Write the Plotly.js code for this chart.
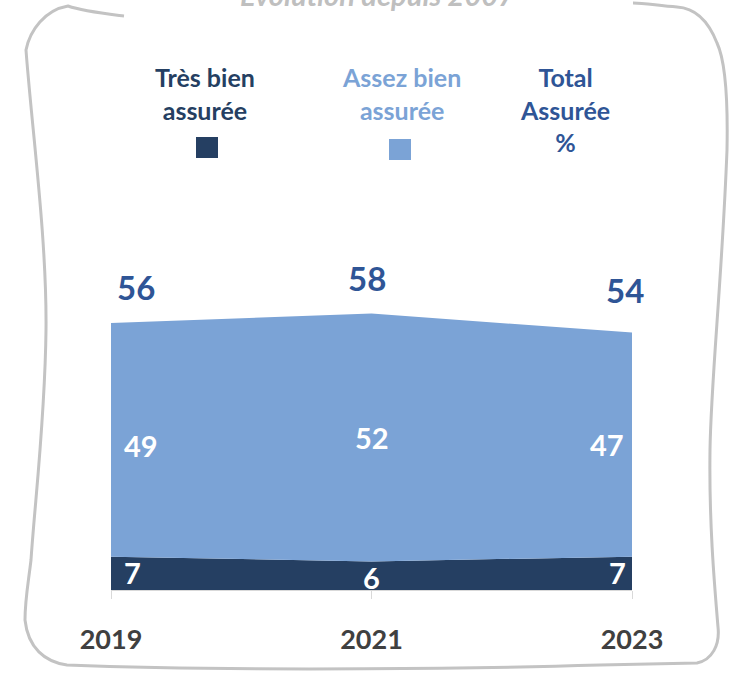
<!DOCTYPE html>
<html>
<head>
<meta charset="utf-8">
<script src="https://cdn.plot.ly/plotly-3.0.1.min.js"></script>
<style>html,body{margin:0;padding:0;background:#fff;}#chart{width:730px;height:678px;}</style>
</head>
<body>
<div id="chart"></div>
<script>
// ---- data ----
const years = [2019, 2021, 2023];
const tresBien = [7, 6, 7];
const assezBien = [49, 52, 47];
const total = [56, 58, 54];
const seriesNames = ["Très bien<br>assurée", "Assez bien<br>assurée", "Total<br>Assurée<br>%"];
const titleText = "Evolution depuis 2007";

// ---- styles ----
const W = 730, H = 678;
const M = {l: 111, r: 98, t: 304, b: 88};
const pw = W - M.l - M.r, ph = H - M.t - M.b;
const cDark = "#253f62", cLight = "#7ba3d6", cTotal = "#2f5596";
const FONT = "Lato, 'Open Sans', sans-serif";
const px = x => (x - M.l) / pw;
const py = y => (H - M.b - y) / ph;

const traces = [
  {x: years, y: tresBien, type: "scatter", mode: "lines", stackgroup: "one",
   line: {width: 0, color: cDark}, fillcolor: cDark, hoverinfo: "skip", showlegend: false},
  {x: years, y: assezBien, type: "scatter", mode: "lines", stackgroup: "one",
   line: {width: 0, color: cLight}, fillcolor: cLight, hoverinfo: "skip", showlegend: false}
];

const anchorOf = i => i === 0 ? "left" : (i === years.length - 1 ? "right" : "center");
const annotations = [];
years.forEach((yr, i) => {
  const a = anchorOf(i);
  annotations.push({x: yr, y: tresBien[i] / 2, text: String(tresBien[i]), showarrow: false,
    xanchor: a, xshift: a === "left" ? 11 : (a === "right" ? -4 : 0), yshift: i === 1 ? -2 : 1,
    font: {family: FONT, size: 29, color: "#ffffff", weight: 700}});
  annotations.push({x: yr, y: tresBien[i] + assezBien[i] / 2, text: String(assezBien[i]), showarrow: false,
    xanchor: a, xshift: a === "left" ? 11 : (a === "right" ? -6 : 0), yshift: i === 0 ? -6 : 0,
    font: {family: FONT, size: 29, color: "#ffffff", weight: 700}});
  annotations.push({x: yr, y: total[i], text: String(total[i]), showarrow: false,
    xanchor: a, xshift: a === "left" ? 4 : (a === "right" ? 14 : -5), yshift: i === 2 ? 43 : 36,
    font: {family: FONT, size: 33, color: cTotal, weight: 700}});
});

// legend-like header
const legendX = [205, 401, 565];
const legendColors = [cDark, cLight, cTotal];
seriesNames.forEach((n, i) => {
  annotations.push({xref: "paper", yref: "paper", x: px(legendX[i]), y: py(60), yanchor: "top",
    xanchor: "center", text: n, showarrow: false, align: "center",
    font: {family: FONT, size: 25, color: legendColors[i], weight: 700}});
});
annotations.push({xref: "paper", yref: "paper", x: px(377), y: py(-6), yanchor: "middle",
  xanchor: "center", text: titleText, showarrow: false,
  font: {family: FONT, size: 29, color: "#bfbfbf", weight: 700, style: "italic"}});

function rect(x0, y0, x1, y1, col) {
  return {type: "rect", xref: "paper", yref: "paper", x0: px(x0), x1: px(x1), y0: py(y1), y1: py(y0),
    fillcolor: col, line: {width: 0}};
}
function P(x, y) { return px(x).toFixed(5) + "," + py(y).toFixed(5); }
const framePath =
  "M" + P(124, 16) +
  " C" + P(100, 13) + " " + P(82, 11) + " " + P(68, 6) +
  " C" + P(45, 10) + " " + P(30, 30) + " " + P(26, 50) +
  " C" + P(32, 130) + " " + P(47, 240) + " " + P(46, 330) +
  " C" + P(45, 420) + " " + P(35, 500) + " " + P(31, 560) +
  " C" + P(28, 585) + " " + P(25, 600) + " " + P(25, 620) +
  " C" + P(28, 648) + " " + P(45, 662) + " " + P(67, 665) +
  " C" + P(250, 672) + " " + P(500, 668) + " " + P(600, 665) +
  " L" + P(697, 663) +
  " C" + P(712, 660) + " " + P(720, 645) + " " + P(718, 627) +
  " C" + P(714, 580) + " " + P(709, 520) + " " + P(710, 450) +
  " C" + P(711, 380) + " " + P(722, 280) + " " + P(727, 150) +
  " C" + P(728, 100) + " " + P(725, 60) + " " + P(717, 43) +
  " C" + P(708, 20) + " " + P(695, 8) + " " + P(677, 7) +
  " C" + P(660, 6) + " " + P(645, 3) + " " + P(633, 3);

const shapes = [
  rect(196, 137, 218, 158, cDark),
  rect(389, 139, 411, 160, cLight),
  {type: "path", xref: "paper", yref: "paper", path: framePath,
   line: {color: "#c3c3c3", width: 3}, fillcolor: "rgba(0,0,0,0)"}
];

const layout = {
  width: W, height: H, margin: M,
  paper_bgcolor: "#ffffff", plot_bgcolor: "#ffffff",
  showlegend: false,
  xaxis: {range: [years[0], years[years.length - 1]], tickvals: years, ticktext: years.map(String),
    ticks: "outside", ticklen: 8, tickcolor: "#d9d9d9", tickwidth: 1,
    showline: true, linecolor: "#d9d9d9", linewidth: 1, showgrid: false, zeroline: false,
    ticklabelstandoff: 18, fixedrange: true,
    tickfont: {family: FONT, size: 27, color: "#404040", weight: 700}},
  yaxis: {range: [0, 60], visible: false, fixedrange: true},
  annotations: annotations,
  shapes: shapes
};

Plotly.newPlot("chart", traces, layout, {staticPlot: true, displayModeBar: false});
</script>
</body>
</html>
